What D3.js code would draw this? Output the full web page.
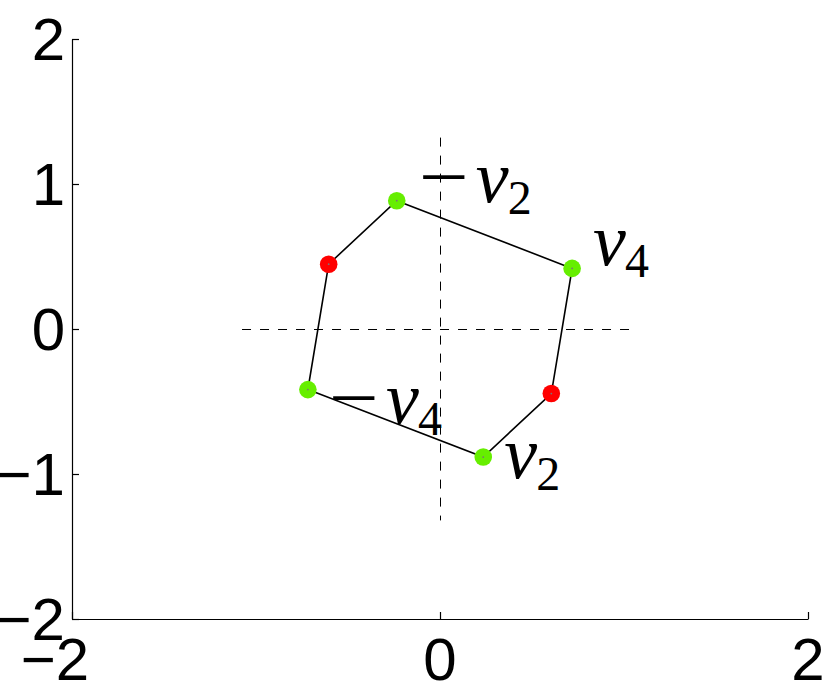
<!DOCTYPE html>
<html>
<head>
<meta charset="UTF-8">
<title>Hexagon</title>
<script src="https://d3js.org/d3.v7.min.js"></script>
<style>
  * { margin: 0; padding: 0; }
  body { background: #fff; }
  svg { display: block; }
</style>
</head>
<body>
<svg id="chart" width="830" height="681"></svg>
<script>
// polygon vertices, in drawing order
const vertexX = [-0.235, 0.718, 0.605, 0.235, -0.718, -0.605];
const vertexY = [0.885, 0.418, -0.445, -0.883, -0.418, 0.447];
const vertexKind = ["v", "v", "mid", "v", "v", "mid"];
// labels of the vertices: sign, letter, index
const labelSign = ["\u2212", "", "", "", "\u2212", ""];
const labelIndex = ["2", "4", "", "2", "4", ""];

// dashed cross through the origin
const crossX = [-1.076, 1.076];
const crossY = [-1.32, 1.32];

const xTicks = [-2, 0, 2];
const yTicks = [-2, -1, 0, 1, 2];

const svg = d3.select("#chart");
const x = d3.scaleLinear().domain([-2, 2]).range([72, 808]);
const y = d3.scaleLinear().domain([-2, 2]).range([619, 39]);

const colors = { v: "#66ee00", mid: "#ff0000" };
// pixel offsets of each label from its vertex
const labelOffset = [[79, 1], [21, -3], null, [21, 21], [78, 33], null];

// axes
const xAxis = d3.axisBottom(x).tickValues(xTicks).tickSizeInner(-7).tickSizeOuter(0).tickFormat("");
const yAxis = d3.axisLeft(y).tickValues(yTicks).tickSizeInner(-7).tickSizeOuter(0).tickFormat("");
svg.append("g").attr("transform", "translate(0," + y(-2) + ")").call(xAxis);
svg.append("g").attr("transform", "translate(" + x(-2) + ",0)").call(yAxis);
svg.selectAll(".domain, .tick line").attr("stroke", "#000").attr("stroke-width", 1.2);

const fmt = v => (v < 0 ? "\u2212" : "") + Math.abs(v);
svg.append("g").selectAll("text").data(yTicks).join("text")
  .attr("x", x(-2) - 7)
  .attr("y", d => y(d))
  .attr("dy", "0.35em")
  .attr("text-anchor", "end")
  .style("font", "60px 'Liberation Sans', Arial, sans-serif")
  .text(fmt);
svg.append("g").selectAll("text").data(xTicks).join("text")
  .attr("x", d => x(d) - (d < 0 ? 17 : 0))
  .attr("y", y(-2) + 61)
  .attr("text-anchor", "middle")
  .style("font", "60px 'Liberation Sans', Arial, sans-serif")
  .text(fmt);

// dashed cross
const dash = svg.append("g").attr("stroke", "#000").attr("stroke-width", 1).attr("stroke-dasharray", "9,9");
dash.append("line")
  .attr("x1", x(crossX[0])).attr("x2", x(crossX[1]))
  .attr("y1", y(0) + 0.5).attr("y2", y(0) + 0.5);
dash.append("line")
  .attr("x1", x(0) + 0.5).attr("x2", x(0) + 0.5)
  .attr("y1", y(crossY[1])).attr("y2", y(crossY[0]));

// hexagon
const pts = vertexX.map((vx, i) => [x(vx), y(vertexY[i])]);
svg.append("path")
  .attr("d", d3.line()(pts) + "Z")
  .attr("fill", "none")
  .attr("stroke", "#000")
  .attr("stroke-width", 1.6);

svg.append("g").selectAll("circle").data(pts).join("circle")
  .attr("cx", d => d[0]).attr("cy", d => d[1])
  .attr("r", 8.8)
  .attr("fill", (d, i) => colors[vertexKind[i]]);
svg.append("g").selectAll("circle").data(pts).join("circle")
  .attr("cx", d => d[0]).attr("cy", d => d[1])
  .attr("r", 0.9)
  .attr("fill", "#777");

// labels
pts.forEach((p, i) => {
  if (!labelOffset[i]) return;
  const ox = p[0] + labelOffset[i][0];
  const oy = p[1] + labelOffset[i][1];
  const g = svg.append("g");
  if (labelSign[i]) {
    g.append("text")
      .attr("x", ox - 57).attr("y", oy - 1)
      .attr("textLength", 50)
      .attr("lengthAdjust", "spacingAndGlyphs")
      .style("font", "72px 'Liberation Serif', serif")
      .text(labelSign[i]);
  }
  g.append("text")
    .attr("x", ox).attr("y", oy)
    .style("font", "italic 74px 'Liberation Serif', serif")
    .text("v");
  g.append("text")
    .attr("x", ox + 32).attr("y", oy + 12)
    .style("font", "48px 'Liberation Serif', serif")
    .text(labelIndex[i]);
});
</script>
</body>
</html>
